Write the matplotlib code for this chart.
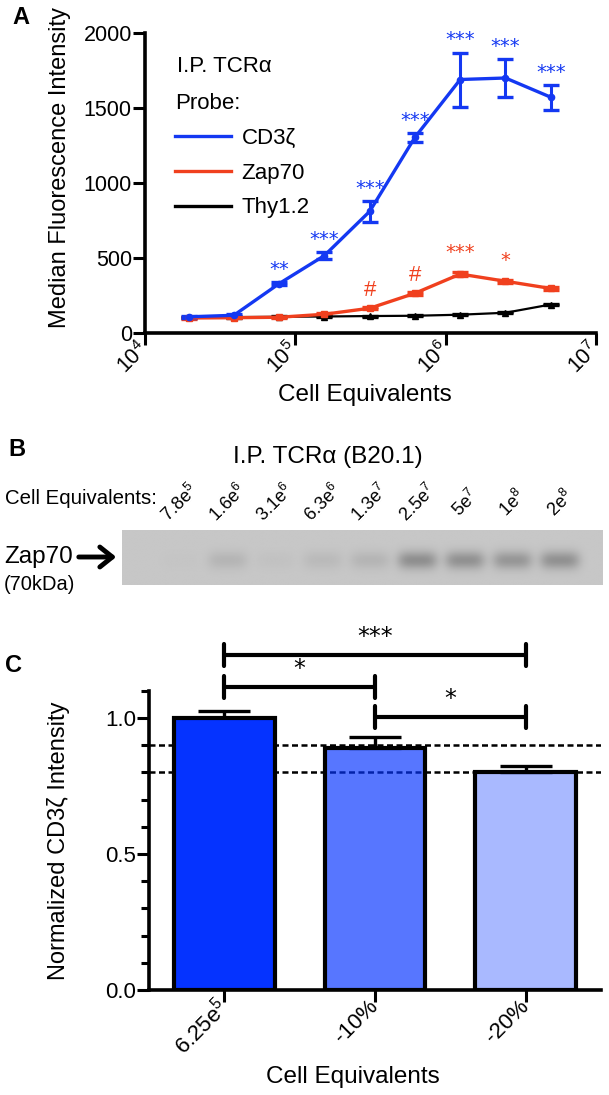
''' Three panel figure: binding curve, blot and normalized bars'''

import numpy as np
import matplotlib.pyplot as plt

plt.rcParams['font.family'] = ['Liberation Sans', 'DejaVu Sans']
plt.rcParams['mathtext.fontset'] = 'custom'
plt.rcParams['mathtext.rm'] = 'Liberation Sans'
plt.rcParams['mathtext.it'] = 'Liberation Sans:italic'
plt.rcParams['mathtext.bf'] = 'Liberation Sans:bold'

# panel A values
cells = [1.95e4, 3.9e4, 7.8e4, 1.56e5, 3.125e5, 6.25e5, 1.25e6, 2.5e6, 5e6]
cd3z = [108, 118, 329, 516, 811, 1305, 1690, 1700, 1572]
cd3z_err = [5, 6, 10, 25, 70, 30, 180, 125, 83]
zap70 = [100, 102, 105, 125, 165, 265, 393, 345, 297]
zap70_err = [4, 4, 4, 6, 8, 10, 12, 10, 8]
thy12 = [105, 106, 108, 110, 113, 115, 122, 135, 190]
thy12_err = [3, 3, 3, 3, 3, 3, 4, 4, 5]
cd3z_marks = ['', '', '**', '***', '***', '***', '***', '***', '***']
zap70_marks = ['', '', '', '', '#', '#', '***', '*', '']

# panel B values
lane_labels = ['7.8e$^5$', '1.6e$^6$', '3.1e$^6$', '6.3e$^6$', '1.3e$^7$',
               '2.5e$^7$', '5e$^7$', '1e$^8$', '2e$^8$']
band_dark = [0.01, 0.07, 0.02, 0.05, 0.07, 0.22, 0.21, 0.19, 0.21]

# panel C values
groups = ['6.25e$^5$', '-10%', '-20%']
norm_cd3z = [1.0, 0.89, 0.80]
norm_err = [0.025, 0.04, 0.025]
bar_alpha = [1.0, 0.67, 0.34]
ref_lines = [0.9, 0.8]
pairs = [(0, 2, '***'), (0, 1, '*'), (1, 2, '*')]

BLUE = '#1438F2'
RED = '#F0401E'
W, H = 609, 1095


def fx(px):
    return px / W


def fy(py):
    return 1 - py / H


def style_axes(ax):
    for s in ['top', 'right']:
        ax.spines[s].set_visible(False)
    for s in ['left', 'bottom']:
        ax.spines[s].set_linewidth(2.6)
    ax.tick_params(which='major', length=8.5, width=2.2, pad=1)
    ax.tick_params(which='minor', length=5.5, width=2.2)


def panel_a(fig):
    ax = fig.add_axes([fx(145), fy(333), fx(596 - 145), (333 - 33) / H])
    style_axes(ax)
    series = [(cd3z, cd3z_err, BLUE, 'o', 4.5, 2.4, 'CD3ζ'),
              (zap70, zap70_err, RED, 's', 4.5, 2.4, 'Zap70'),
              (thy12, thy12_err, 'black', '^', 5, 1.6, 'Thy1.2')]
    handles = []
    for vals, err, col, mk, ms, lw, lab in reversed(series):
        ax.errorbar(cells, vals, yerr=err, color=col, marker=mk, ms=ms, lw=lw,
                    capsize=5.5, capthick=2.4, elinewidth=2.2)
    for vals, err, col, mk, ms, lw, lab in series:
        handles.append(plt.Line2D([], [], color=col, lw=2.4, label=lab))

    # significance marks
    for x, v, e, m in zip(cells, cd3z, cd3z_err, cd3z_marks):
        if m:
            ax.annotate(m, (x, v + e), xytext=(0, 9), textcoords='offset points',
                        ha='center', va='center', color=BLUE, fontsize=14,
                        family='DejaVu Sans')
    for x, v, e, m in zip(cells, zap70, zap70_err, zap70_marks):
        if m == '#':
            ax.annotate(m, (x, v + e), xytext=(0, 12), textcoords='offset points',
                        ha='center', va='center', color=RED, fontsize=16)
        elif m:
            ax.annotate(m, (x, v + e), xytext=(0, 14), textcoords='offset points',
                        ha='center', va='center', color=RED, fontsize=14,
                        family='DejaVu Sans')

    ax.set_xscale('log')
    ax.set_xlim(1e4, 1e7)
    ax.set_ylim(0, 2000)
    ax.set_yticks([0, 500, 1000, 1500, 2000])
    ax.set_xticks([1e4, 1e5, 1e6, 1e7])
    ax.xaxis.set_minor_locator(plt.NullLocator())
    ax.set_xticklabels(['$10^4$', '$10^5$', '$10^6$', '$10^7$'], rotation=45,
                       ha='right', va='center', rotation_mode='anchor')
    ax.tick_params(labelsize=15.5)
    ax.set_xlabel('Cell Equivalents', fontsize=17.5, va='top')
    ax.xaxis.set_label_coords(0.488, -0.17)
    ax.set_ylabel('Median Fluorescence Intensity', fontsize=17)
    ax.yaxis.set_label_coords(-0.165, 0.553)

    ax.text(0.071, 1 - (67 - 33) / 300, 'I.P. TCRα', transform=ax.transAxes,
            fontsize=16, ha='left', va='center')
    ax.legend(handles=handles, title='Probe:', loc='upper left',
              bbox_to_anchor=(0.066, 1 - (93 - 33) / 300), frameon=False,
              fontsize=16, title_fontsize=16, alignment='left', handlelength=2.55,
              handletextpad=0.45, labelspacing=0.62, borderpad=0, borderaxespad=0)
    fig.text(fx(21), fy(18), 'A', fontsize=17, weight='bold', ha='center', va='center')


def panel_b(fig):
    x0, x1 = -1.22, 8.9
    ax = fig.add_axes([fx(122), fy(585), fx(603 - 122), 55 / H])
    xs = np.linspace(x0, x1, 600)
    ys = np.linspace(0, 1, 70)
    img = np.full((70, 600), 0.78)
    for i, d in enumerate(band_dark):
        img -= d * np.exp(-((xs[None, :] - i) / 0.42) ** 4) * \
            np.exp(-((ys[:, None] - 0.55) / 0.17) ** 2)
    ax.imshow(img, cmap='gray', vmin=0, vmax=1, extent=[x0, x1, 0, 1],
              aspect='auto', interpolation='bilinear')
    ax.set_xlim(x0, x1)
    ax.set_ylim(0, 1)
    ax.axis('off')

    for i, lab in enumerate(lane_labels):
        ax.text(i, 1.49, lab, rotation=45, ha='center', va='center', fontsize=13,
                transform=ax.get_xaxis_transform())

    fig.text(fx(17), fy(450), 'B', fontsize=17, weight='bold', ha='center', va='center')
    fig.text(fx(328), fy(457), 'I.P. TCRα (B20.1)', fontsize=17.5, ha='center', va='center')
    fig.text(fx(5), fy(498), 'Cell Equivalents:', fontsize=14.7, ha='left', va='center')
    fig.text(fx(4), fy(557), 'Zap70', fontsize=17.5, ha='left', va='center')
    fig.text(fx(4), fy(584), '(70kDa)', fontsize=14.5, ha='left', va='center')
    fig.add_artist(plt.matplotlib.patches.FancyArrowPatch(
        (fx(76), fy(557)), (fx(119), fy(557)), transform=fig.transFigure,
        arrowstyle='->,head_length=0.5,head_width=0.4', lw=3.5, color='black',
        mutation_scale=18))


def panel_c(fig):
    top = 990 - 1.1 * 272
    ax = fig.add_axes([fx(149), fy(990), fx(601 - 149), (990 - top) / H])
    style_axes(ax)
    x = np.arange(len(groups))
    for y in ref_lines:
        ax.axhline(y, color='black', lw=1.8, ls=(0, (2.4, 1.4)), zorder=1)
    colors = [(0.02, 0.2, 1.0, a) for a in bar_alpha]
    ax.bar(x, norm_cd3z, width=0.67, color=colors, edgecolor='black', lw=3, zorder=3)
    ax.errorbar(x, norm_cd3z, yerr=[[0] * len(x), norm_err], fmt='none',
                ecolor='black', elinewidth=2.4, capsize=18.5, capthick=2.4, zorder=2)

    # significance brackets
    levels = [1.232, 1.114, 1.004]
    tick = 0.039
    for (a, b, s), lev in zip(pairs, levels):
        ax.plot([a, b], [lev, lev], color='black', lw=3, clip_on=False,
                solid_capstyle='butt')
        for xe in (a, b):
            ax.plot([xe, xe], [lev - tick, lev + tick], color='black', lw=3,
                    clip_on=False, solid_capstyle='round')
        ax.annotate(s, ((a + b) / 2, lev), xytext=(0, 13), textcoords='offset points',
                    ha='center', va='center', fontsize=17, family='DejaVu Sans',
                    annotation_clip=False)

    ax.set_xlim(-0.5, 2.5)
    ax.set_ylim(0, 1.1)
    ax.set_yticks([0, 0.5, 1.0])
    ax.set_yticklabels(['0.0', '0.5', '1.0'])
    ax.set_yticks(np.arange(0, 1.15, 0.1), minor=True)
    ax.set_xticks(x)
    ax.set_xticklabels(groups, rotation=45, ha='right', va='center',
                       rotation_mode='anchor')
    ax.tick_params(labelsize=16)
    ax.set_xlabel('Cell Equivalents', fontsize=17.5, va='top')
    ax.xaxis.set_label_coords(0.451, -0.255)
    ax.set_ylabel('Normalized CD3ζ Intensity', fontsize=17)
    ax.yaxis.set_label_coords(-0.175, 0.5)
    fig.text(fx(14), fy(665), 'C', fontsize=17, weight='bold', ha='center', va='center')


fig = plt.figure(figsize=(W / 100, H / 100), dpi=100)
panel_a(fig)
panel_b(fig)
panel_c(fig)
fig.savefig('out.png', dpi=100)
